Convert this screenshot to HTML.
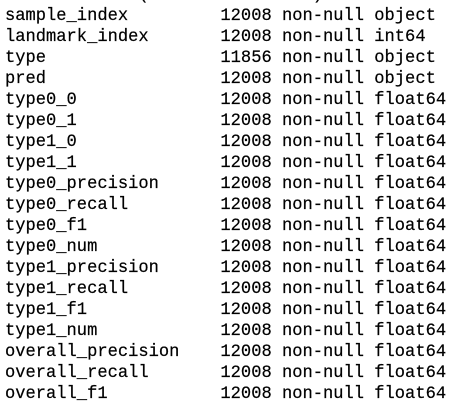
<!DOCTYPE html>
<html><head><meta charset="utf-8"><style>
html,body{margin:0;padding:0;background:#fff;width:464px;height:408px;overflow:hidden}
pre{position:absolute;left:5px;top:-15px;margin:0;font-family:"Liberation Mono",monospace;font-size:17.1px;line-height:21px;color:#000;-webkit-text-stroke:0.2px #000}
</style></head><body><pre>Data columns (total 19 columns):
sample_index         12008 non-null object
landmark_index       12008 non-null int64
type                 11856 non-null object
pred                 12008 non-null object
type0_0              12008 non-null float64
type0_1              12008 non-null float64
type1_0              12008 non-null float64
type1_1              12008 non-null float64
type0_precision      12008 non-null float64
type0_recall         12008 non-null float64
type0_f1             12008 non-null float64
type0_num            12008 non-null float64
type1_precision      12008 non-null float64
type1_recall         12008 non-null float64
type1_f1             12008 non-null float64
type1_num            12008 non-null float64
overall_precision    12008 non-null float64
overall_recall       12008 non-null float64
overall_f1           12008 non-null float64</pre></body></html>
